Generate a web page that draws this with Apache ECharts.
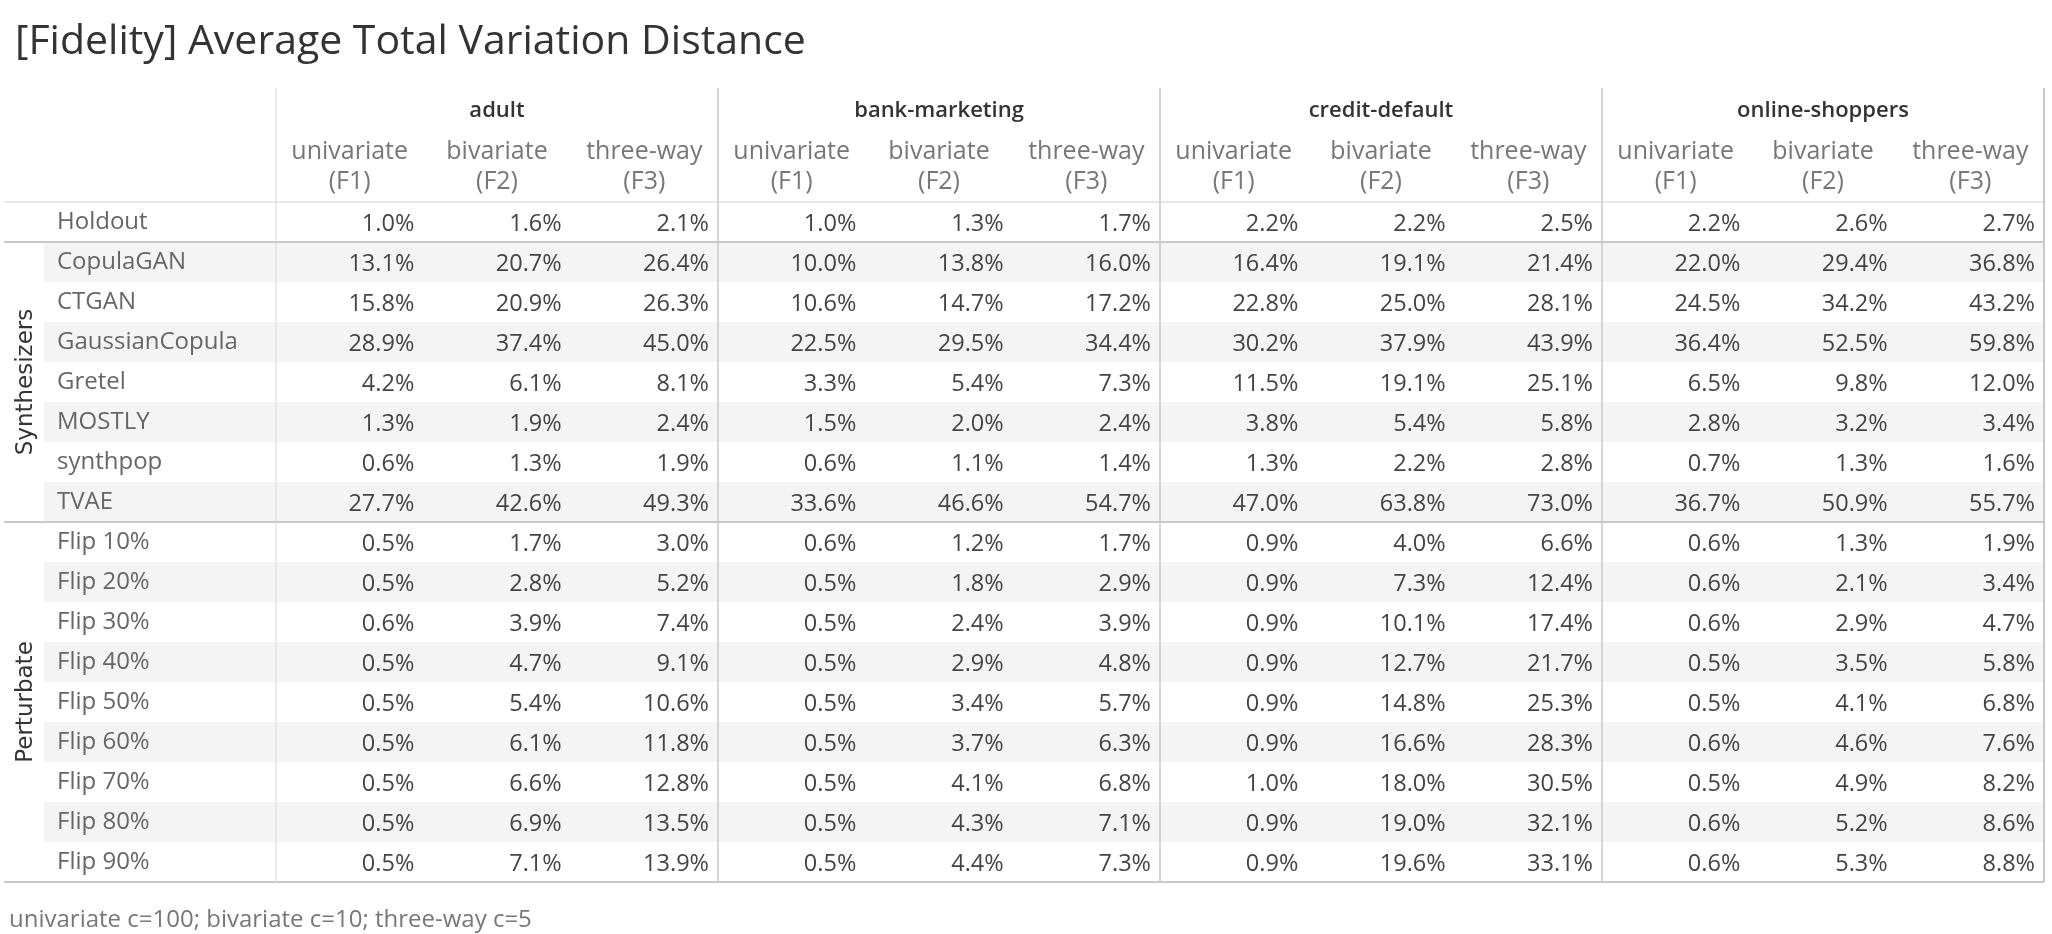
<!DOCTYPE html>
<html>
<head>
<meta charset="utf-8">
<title>[Fidelity] Average Total Variation Distance</title>
<script src="https://cdn.jsdelivr.net/npm/echarts@6/dist/echarts.min.js"></script>
<style>
  html, body { margin: 0; padding: 0; background: #fff; }
  #main { width: 2052px; height: 934px; }
</style>
</head>
<body>
<div id="main"></div>
<script>
// column groups and the three metrics under each
var datasets = ['adult', 'bank-marketing', 'credit-default', 'online-shoppers'];
var metrics = ['univariate\n(F1)', 'bivariate\n(F2)', 'three-way\n(F3)'];

// rows
var methods = ['Holdout', 'CopulaGAN', 'CTGAN', 'GaussianCopula', 'Gretel', 'MOSTLY', 'synthpop', 'TVAE',
  'Flip 10%', 'Flip 20%', 'Flip 30%', 'Flip 40%', 'Flip 50%', 'Flip 60%', 'Flip 70%', 'Flip 80%', 'Flip 90%'];
var methodGroups = ['',
  'Synthesizers', 'Synthesizers', 'Synthesizers', 'Synthesizers', 'Synthesizers', 'Synthesizers', 'Synthesizers',
  'Perturbate', 'Perturbate', 'Perturbate', 'Perturbate', 'Perturbate', 'Perturbate', 'Perturbate', 'Perturbate', 'Perturbate'];

// values in %, one [F1, F2, F3] per method
var adult = [
  [1.0, 1.6, 2.1], [13.1, 20.7, 26.4], [15.8, 20.9, 26.3], [28.9, 37.4, 45.0], [4.2, 6.1, 8.1],
  [1.3, 1.9, 2.4], [0.6, 1.3, 1.9], [27.7, 42.6, 49.3],
  [0.5, 1.7, 3.0], [0.5, 2.8, 5.2], [0.6, 3.9, 7.4], [0.5, 4.7, 9.1], [0.5, 5.4, 10.6],
  [0.5, 6.1, 11.8], [0.5, 6.6, 12.8], [0.5, 6.9, 13.5], [0.5, 7.1, 13.9]
];
var bankMarketing = [
  [1.0, 1.3, 1.7], [10.0, 13.8, 16.0], [10.6, 14.7, 17.2], [22.5, 29.5, 34.4], [3.3, 5.4, 7.3],
  [1.5, 2.0, 2.4], [0.6, 1.1, 1.4], [33.6, 46.6, 54.7],
  [0.6, 1.2, 1.7], [0.5, 1.8, 2.9], [0.5, 2.4, 3.9], [0.5, 2.9, 4.8], [0.5, 3.4, 5.7],
  [0.5, 3.7, 6.3], [0.5, 4.1, 6.8], [0.5, 4.3, 7.1], [0.5, 4.4, 7.3]
];
var creditDefault = [
  [2.2, 2.2, 2.5], [16.4, 19.1, 21.4], [22.8, 25.0, 28.1], [30.2, 37.9, 43.9], [11.5, 19.1, 25.1],
  [3.8, 5.4, 5.8], [1.3, 2.2, 2.8], [47.0, 63.8, 73.0],
  [0.9, 4.0, 6.6], [0.9, 7.3, 12.4], [0.9, 10.1, 17.4], [0.9, 12.7, 21.7], [0.9, 14.8, 25.3],
  [0.9, 16.6, 28.3], [1.0, 18.0, 30.5], [0.9, 19.0, 32.1], [0.9, 19.6, 33.1]
];
var onlineShoppers = [
  [2.2, 2.6, 2.7], [22.0, 29.4, 36.8], [24.5, 34.2, 43.2], [36.4, 52.5, 59.8], [6.5, 9.8, 12.0],
  [2.8, 3.2, 3.4], [0.7, 1.3, 1.6], [36.7, 50.9, 55.7],
  [0.6, 1.3, 1.9], [0.6, 2.1, 3.4], [0.6, 2.9, 4.7], [0.5, 3.5, 5.8], [0.5, 4.1, 6.8],
  [0.6, 4.6, 7.6], [0.5, 4.9, 8.2], [0.6, 5.2, 8.6], [0.6, 5.3, 8.8]
];
var footnote = 'univariate c=100; bivariate c=10; three-way c=5';

var FONT = '"Open Sans", "Noto Sans", sans-serif';
var tables = [adult, bankMarketing, creditDefault, onlineShoppers];

// one x category per (dataset, metric)
var colKeys = [];
datasets.forEach(function (d, di) {
  metrics.forEach(function (m, mi) { colKeys.push(di + ':' + mi); });
});

var cells = [];
tables.forEach(function (t, di) {
  t.forEach(function (row, r) {
    row.forEach(function (v, mi) { cells.push([di * 3 + mi, r, v]); });
  });
});

// striped rows (every other row, starting at the 2nd)
var bandRows = [];
methods.forEach(function (m, i) { if (i % 2 === 1) bandRows.push([0, i]); });

// horizontal rules: top of table, group changes, bottom  -> [row, side, width]
var hRules = [[0, -1, 1]];
for (var i = 1; i < methods.length; i++) {
  if (methodGroups[i] !== methodGroups[i - 1]) hRules.push([i, -1, 2]);
}
hRules.push([methods.length - 1, 1, 2]);

// vertical rules at dataset boundaries -> [col, side, width]
var vRules = [[0, -1, 1]];
for (var k = 1; k < datasets.length; k++) vRules.push([k * 3, -1, 1.5]);
vRules.push([colKeys.length - 1, 1, 2]);

// group blocks for the rotated labels
var groupBlocks = [];
var groupNames = [];
methodGroups.forEach(function (g, i) {
  if (!g) return;
  if (groupNames[groupNames.length - 1] !== g) { groupNames.push(g); groupBlocks.push([i, i]); }
  else groupBlocks[groupBlocks.length - 1][1] = i;
});

var chart = echarts.init(document.getElementById('main'));
chart.setOption({
  animation: false,
  backgroundColor: '#fff',
  title: [{
    text: '[Fidelity] Average Total Variation Distance',
    left: 10, top: 17,
    textStyle: { fontFamily: FONT, fontSize: 41, fontWeight: 'normal', color: '#333' }
  }, {
    text: footnote,
    left: 4, top: 903,
    textStyle: { fontFamily: FONT, fontSize: 24, fontWeight: 'normal', color: '#777' }
  }],
  grid: { left: 276, right: 8, top: 202, bottom: 52 },
  xAxis: [{
    type: 'category', position: 'top', data: colKeys,
    axisLine: { show: false }, axisTick: { show: false }, splitLine: { show: false },
    axisLabel: {
      interval: 0, margin: 35, verticalAlign: 'middle', lineHeight: 30,
      fontFamily: FONT, fontSize: 25, color: '#777',
      formatter: function (v) { return metrics[+v.split(':')[1]]; }
    }
  }, {
    type: 'category', position: 'top', data: datasets,
    axisLine: { show: false }, axisTick: { show: false }, splitLine: { show: false },
    axisLabel: {
      interval: 0, margin: 91, verticalAlign: 'middle',
      fontFamily: FONT, fontSize: 22, fontWeight: 600, color: '#333'
    }
  }],
  yAxis: {
    type: 'category', data: methods, inverse: true, z: 10,
    axisLine: { show: false }, axisTick: { show: false }, splitLine: { show: false },
    axisLabel: { interval: 0, align: 'left', margin: 219, padding: [5, 0, 0, 0],
      fontFamily: FONT, fontSize: 24, color: '#666' }
  },
  series: [{
    type: 'custom', name: 'bands', silent: true, z: 1,
    data: bandRows,
    renderItem: function (params, api) {
      var c = api.coord([0, api.value(1)]);
      var h = api.size([0, 1])[1];
      var cs = params.coordSys;
      return { type: 'rect', shape: { x: 44, y: c[1] - h / 2, width: cs.x + cs.width - 44, height: h },
        style: { fill: '#f4f4f4' } };
    }
  }, {
    type: 'custom', name: 'hrules', silent: true, z: 3,
    data: hRules,
    renderItem: function (params, api) {
      var h = api.size([0, 1])[1];
      var y = api.coord([0, api.value(0)])[1] + api.value(1) * h / 2;
      var cs = params.coordSys;
      return { type: 'line', shape: { x1: 4, y1: y, x2: cs.x + cs.width, y2: y },
        style: { stroke: api.value(2) > 1 ? '#c8c8c8' : '#d2d2d2', lineWidth: api.value(2) } };
    }
  }, {
    type: 'custom', name: 'vrules', silent: true, z: 3,
    data: vRules,
    renderItem: function (params, api) {
      var w = api.size([1, 0])[0];
      var x = api.coord([api.value(0), 0])[0] + api.value(1) * w / 2;
      var cs = params.coordSys;
      return { type: 'line', shape: { x1: x, y1: 88, x2: x, y2: cs.y + cs.height },
        style: { stroke: api.value(2) > 1 ? '#c8c8c8' : '#d8d8d8', lineWidth: api.value(2) } };
    }
  }, {
    type: 'custom', name: 'groups', silent: true, z: 4,
    data: groupBlocks,
    renderItem: function (params, api) {
      var y0 = api.coord([0, api.value(0)])[1];
      var y1 = api.coord([0, api.value(1)])[1];
      return { type: 'text', x: 26, y: (y0 + y1) / 2, rotation: Math.PI / 2,
        style: { text: groupNames[params.dataIndex], align: 'center', verticalAlign: 'middle',
          font: '23px "DejaVu Sans", sans-serif', fill: '#333' } };
    }
  }, {
    type: 'custom', name: 'values', silent: true, z: 5,
    data: cells,
    renderItem: function (params, api) {
      var c = api.coord([api.value(0), api.value(1)]);
      var w = api.size([1, 0])[0];
      return { type: 'text', x: c[0] + w / 2 - 9, y: c[1] + 2,
        style: { text: api.value(2).toFixed(1) + '%', align: 'right', verticalAlign: 'middle',
          font: '23.5px ' + FONT, fill: '#444' } };
    }
  }]
});
</script>
</body>
</html>
